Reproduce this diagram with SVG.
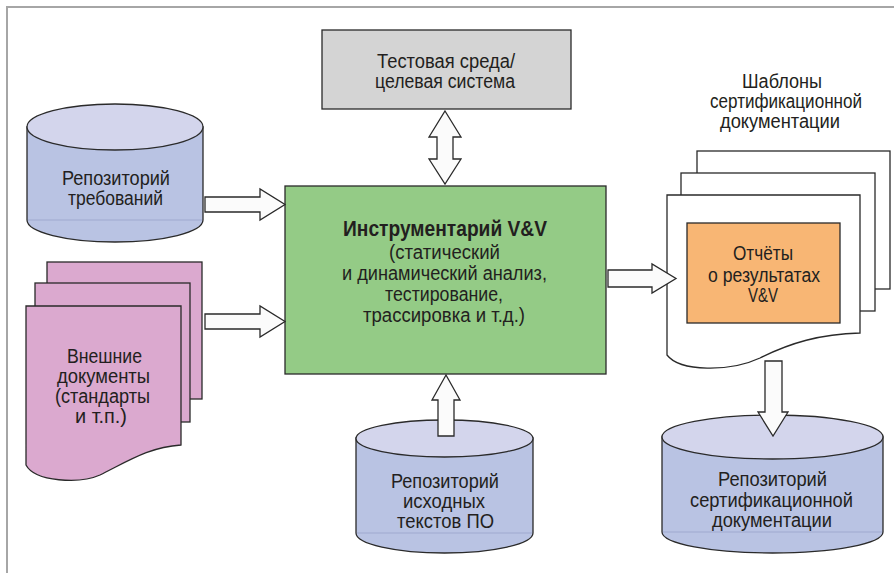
<svg xmlns="http://www.w3.org/2000/svg" width="894" height="573" viewBox="0 0 894 573">
<style>
text{font-family:"Liberation Sans",Arial,sans-serif;font-size:19.5px;fill:#231f20;text-anchor:middle}
.b{font-weight:bold;font-size:22px}
.sh{stroke:#2a2a2a;stroke-width:1.3}
.cylb{fill:#b9c3e3;stroke:#2a2a2a;stroke-width:1.3}
.cylt{fill:#d3d5ec;stroke:#2a2a2a;stroke-width:1.3}
.cyll{stroke:#8e98c4;stroke-width:0.6;fill:none}
.arr{fill:#fbfbfb;stroke:#2a2a2a;stroke-width:1.3;stroke-linejoin:miter}
.page{fill:#ffffff;stroke:#2a2a2a;stroke-width:1.3}
.pink{fill:#dba9cf;stroke:#2a2a2a;stroke-width:1.3}
</style>
<rect width="894" height="573" fill="#ffffff"/>
<path d="M7,573 V7 H894" fill="none" stroke="#a6a6a6" stroke-width="2"/>

<g id="test-env">
<rect x="322" y="30" width="249" height="79" fill="#d4d4d4" class="sh"/>
<text x="446" y="67.5" textLength="138" lengthAdjust="spacingAndGlyphs">Тестовая среда/</text>
<text x="445" y="87.5" textLength="140" lengthAdjust="spacingAndGlyphs">целевая система</text>
</g>

<g id="req-repo">
<path class="cylb" d="M27,127 L27,220 A88,22 0 0 0 203,220 L203,127 Z"/>
<path class="cyll" d="M28,220 H202"/>
<ellipse class="cylt" cx="115" cy="127" rx="88" ry="23"/>
<text x="116" y="184.5" textLength="108" lengthAdjust="spacingAndGlyphs">Репозиторий</text>
<text x="115.5" y="204.5" textLength="95" lengthAdjust="spacingAndGlyphs">требований</text>
</g>

<g id="ext-docs">
<rect class="pink" x="47" y="262" width="155" height="137"/>
<rect class="pink" x="35" y="283" width="155" height="139"/>
<path class="pink" d="M26,306 H181 V445 C150,447 130,460 100,475 C80,484 35,482 26,465 Z"/>
<text x="104.5" y="362.5" textLength="75" lengthAdjust="spacingAndGlyphs">Внешние</text>
<text x="103.5" y="382.5" textLength="93" lengthAdjust="spacingAndGlyphs">документы</text>
<text x="102.5" y="402.5" textLength="95" lengthAdjust="spacingAndGlyphs">(стандарты</text>
<text x="101" y="422.5" textLength="52" lengthAdjust="spacingAndGlyphs">и т.п.)</text>
</g>

<g id="vv-tools">
<rect x="285" y="186" width="321" height="188" fill="#94cb86" class="sh"/>
<text class="b" x="445" y="236" textLength="204" lengthAdjust="spacingAndGlyphs">Инструментарий V&amp;V</text>
<text x="444.5" y="259" textLength="111" lengthAdjust="spacingAndGlyphs">(статический</text>
<text x="444.5" y="280" textLength="205" lengthAdjust="spacingAndGlyphs">и динамический анализ,</text>
<text x="444" y="300.5" textLength="118" lengthAdjust="spacingAndGlyphs">тестирование,</text>
<text x="444" y="321.5" textLength="162" lengthAdjust="spacingAndGlyphs">трассировка и т.д.)</text>
</g>

<g id="src-repo">
<path class="cylb" d="M356,438 L356,533 A88.5,20 0 0 0 533,533 L533,438 Z"/>
<path class="cyll" d="M357,533 H532"/>
<ellipse class="cylt" cx="444.5" cy="438.5" rx="88.5" ry="18.5"/>
<text x="445" y="488" textLength="108" lengthAdjust="spacingAndGlyphs">Репозиторий</text>
<text x="444" y="508" textLength="82" lengthAdjust="spacingAndGlyphs">исходных</text>
<text x="445.5" y="528" textLength="97" lengthAdjust="spacingAndGlyphs">текстов ПО</text>
</g>

<g id="templates">
<text x="782" y="87.5" textLength="80" lengthAdjust="spacingAndGlyphs">Шаблоны</text>
<text x="786" y="108" textLength="152" lengthAdjust="spacingAndGlyphs">сертификационной</text>
<text x="780" y="128" textLength="120" lengthAdjust="spacingAndGlyphs">документации</text>
<rect class="page" x="697" y="151" width="193" height="138"/>
<rect class="page" x="681" y="173" width="194" height="138"/>
<path class="page" d="M667,195 H860 V333 C820,334 790,343 760,358 C730,372 680,372 667,355 Z"/>
</g>

<g id="reports">
<rect x="687" y="223" width="153" height="100" fill="#f8b674" class="sh"/>
<text x="763" y="260" textLength="60" lengthAdjust="spacingAndGlyphs">Отчёты</text>
<text x="764" y="281.5" textLength="112" lengthAdjust="spacingAndGlyphs">о результатах</text>
<text x="763" y="301.5" textLength="30" lengthAdjust="spacingAndGlyphs">V&amp;V</text>
</g>

<g id="cert-repo">
<path class="cylb" d="M662,437 L662,532 A110.5,21 0 0 0 883,532 L883,437 Z"/>
<path class="cyll" d="M663,532 H882"/>
<ellipse class="cylt" cx="772.5" cy="437" rx="110.5" ry="22"/>
<text x="772.5" y="486" textLength="109" lengthAdjust="spacingAndGlyphs">Репозиторий</text>
<text x="771.5" y="506.5" textLength="163" lengthAdjust="spacingAndGlyphs">сертификационной</text>
<text x="772" y="526.5" textLength="120" lengthAdjust="spacingAndGlyphs">документации</text>
</g>

<g id="connectors">
<polygon class="arr" points="205,197 260,197 260,189 285,204.5 260,220 260,212 205,212"/>
<polygon class="arr" points="205,314 260,314 260,306 285,321.5 260,337 260,329 205,329"/>
<polygon class="arr" points="608,270 652,270 652,264 676,278.5 652,293 652,287 608,287"/>
<polygon class="arr" points="445,111 461,137 453,137 453,159 461,159 445,184 429,159 437,159 437,137 429,137"/>
<polygon class="arr" points="446,375 460,400 454,400 454,436 438,436 438,400 432,400"/>
<polygon class="arr" points="765,361 782,361 782,412 788,412 773,436 758,412 765,412"/>
</g>
</svg>
